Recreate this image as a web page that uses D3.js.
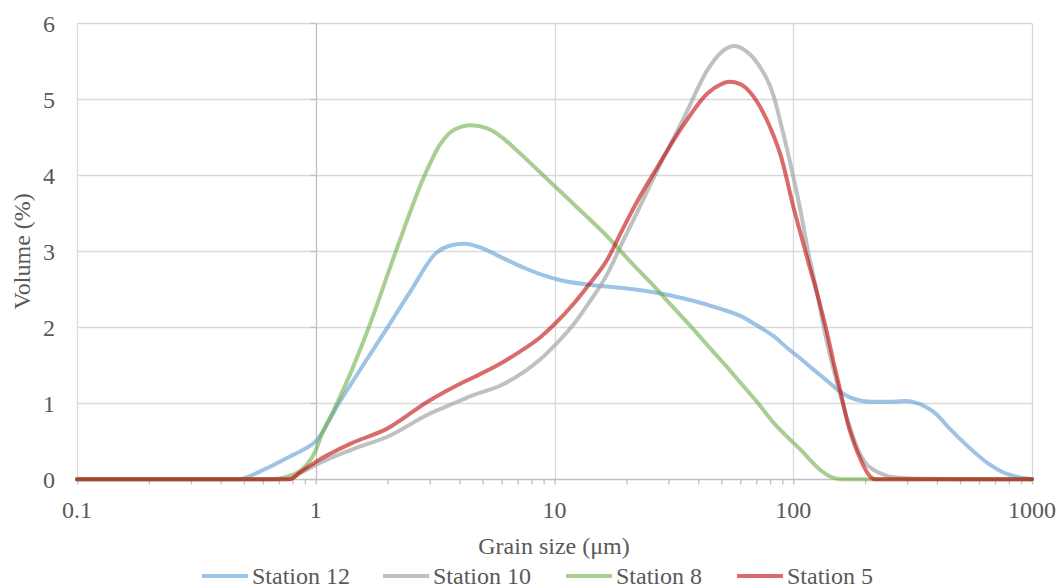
<!DOCTYPE html>
<html>
<head>
<meta charset="utf-8">
<script src="https://cdnjs.cloudflare.com/ajax/libs/d3/7.8.5/d3.min.js"></script>
</head>
<body style="margin:0">
<svg id="chart" width="1058" height="588"></svg>
<script>
// ---- Data ----
const seriesNames = ["Station 12", "Station 10", "Station 8", "Station 5"];

const sizes12 = [0.1, 0.47, 0.6, 0.78, 0.9, 1, 1.25, 1.6, 2, 2.5, 3.2, 3.6, 4.2, 5, 6, 7.5, 8.7, 10.6, 14, 20, 25, 37, 50, 60, 70, 83, 95, 108, 122, 138, 153, 175, 211, 250, 293, 355, 400, 445, 540, 655, 760, 845, 1000];
const vol12   = [0, 0, 0.12, 0.3, 0.4, 0.5, 1.0, 1.53, 2.0, 2.48, 2.98, 3.07, 3.10, 3.04, 2.92, 2.78, 2.70, 2.62, 2.56, 2.51, 2.47, 2.36, 2.24, 2.15, 2.03, 1.88, 1.72, 1.58, 1.44, 1.30, 1.18, 1.07, 1.02, 1.02, 1.03, 0.96, 0.85, 0.69, 0.43, 0.21, 0.09, 0.04, 0];

const sizes10 = [0.1, 0.77, 0.85, 1, 1.4, 2.06, 2.94, 3.93, 4.5, 6, 7.5, 8.8, 10, 12.1, 14, 16.7, 19, 21.7, 27, 35, 43.8, 50, 56.6, 63, 71, 83, 90, 98, 107, 115, 125, 135, 146, 158, 172, 187, 200, 218, 240, 258, 300, 400, 500, 1000];
const vol10   = [0, 0, 0.07, 0.19, 0.385, 0.58, 0.85, 1.02, 1.1, 1.24, 1.42, 1.59, 1.76, 2.05, 2.33, 2.71, 3.08, 3.45, 4.07, 4.77, 5.39, 5.62, 5.70, 5.64, 5.47, 5.03, 4.6, 4.11, 3.55, 3.02, 2.5, 1.96, 1.5, 1.09, 0.7, 0.385, 0.22, 0.12, 0.06, 0.03, 0.015, 0.005, 0, 0];

const sizes8  = [0.1, 0.65, 0.75, 0.85, 0.91, 1, 1.05, 1.19, 1.4, 1.65, 2.2, 2.84, 3.34, 3.8, 4.47, 5.2, 5.97, 7, 8.5, 10, 13, 16.7, 20, 25.4, 30, 37.3, 45, 52, 60.5, 70, 83, 95, 108, 127, 144, 160, 1000];
const vol8    = [0, 0, 0.03, 0.1, 0.18, 0.38, 0.56, 0.91, 1.4, 1.96, 3.06, 3.98, 4.42, 4.6, 4.66, 4.62, 4.51, 4.32, 4.07, 3.86, 3.52, 3.19, 2.92, 2.58, 2.33, 2.01, 1.72, 1.5, 1.26, 1.03, 0.74, 0.55, 0.38, 0.15, 0.03, 0, 0];

const sizes5  = [0.1, 0.78, 0.85, 1, 1.4, 2.0, 2.94, 3.93, 5, 6, 7, 8.8, 10, 12.1, 14, 16.7, 19, 21.7, 27, 35, 43.8, 50, 54, 60, 66.5, 75, 83, 89, 100, 108, 117, 127, 138, 149, 160, 169, 180, 192, 203, 211, 220, 1000];
const vol5    = [0, 0, 0.08, 0.23, 0.47, 0.67, 1.02, 1.24, 1.4, 1.53, 1.66, 1.88, 2.04, 2.32, 2.57, 2.9, 3.25, 3.6, 4.11, 4.68, 5.08, 5.2, 5.23, 5.2, 5.08, 4.82, 4.51, 4.24, 3.59, 3.2, 2.8, 2.4, 1.95, 1.48, 1.07, 0.74, 0.47, 0.25, 0.1, 0.03, 0, 0];

const xTicks = [0.1, 1, 10, 100, 1000];
const xTickLabels = ["0.1", "1", "10", "100", "1000"];
const yTicks = [0, 1, 2, 3, 4, 5, 6];

const colors   = ["#5B9BD5", "#A5A5A5", "#70AD47", "#C00000"];
const opacities = [0.6, 0.7, 0.6, 0.58];

// ---- Build series ----
const series = [
  { name: seriesNames[0], pts: sizes12.map((s, i) => [s, vol12[i]]) },
  { name: seriesNames[1], pts: sizes10.map((s, i) => [s, vol10[i]]) },
  { name: seriesNames[2], pts: sizes8.map((s, i) => [s, vol8[i]]) },
  { name: seriesNames[3], pts: sizes5.map((s, i) => [s, vol5[i]]) }
];

// ---- Layout ----
const FONT = "Liberation Serif";
const svg = d3.select("#chart");
const L = 77, R = 1032, T = 23.3, B = 479.3;
const x = d3.scaleLog().domain([0.1, 1000]).range([L, R]);
const y = d3.scaleLinear().domain([0, 6]).range([B, T]);
const fontSize = 24;
const txt = sel => sel.attr("font-family", FONT).attr("font-size", fontSize);

// Text layer first (colour inherited from the group)
const textLayer = svg.append("g").attr("fill", "#595959");

// X tick labels
xTicks.forEach((d, i) => {
  textLayer.append("text").call(txt)
    .attr("x", x(d)).attr("y", 510).attr("dy", "0.35em")
    .attr("text-anchor", "middle").text(xTickLabels[i]);
});

// Y tick labels
yTicks.forEach(d => {
  textLayer.append("text").call(txt)
    .attr("x", 55).attr("y", y(d)).attr("dy", "0.35em")
    .attr("text-anchor", "end").text(d);
});

// Axis titles
textLayer.append("text").call(txt)
  .attr("x", 554).attr("y", 546).attr("dy", "0.35em")
  .attr("text-anchor", "middle")
  .text("Grain size (μm)");
textLayer.append("text").call(txt)
  .attr("transform", `translate(22,${(T + B) / 2}) rotate(-90)`)
  .attr("dy", "0.35em")
  .attr("text-anchor", "middle")
  .text("Volume (%)");

// Legend texts
const legendStarts = [202, 383, 566, 737];
const legY = 576;
seriesNames.forEach((name, i) => {
  textLayer.append("text").call(txt)
    .attr("x", legendStarts[i] + 50).attr("y", legY).attr("dy", "0.35em").text(name);
});

// Horizontal gridlines
svg.append("g").selectAll("line").data(yTicks.filter(v => v > 0)).join("line")
  .attr("x1", L).attr("x2", R)
  .attr("y1", d => Math.round(y(d)) + 0.5).attr("y2", d => Math.round(y(d)) + 0.5)
  .attr("stroke", "#d9d9d9").attr("stroke-width", 1.3);

// Vertical gridlines (decades except axis at 1)
svg.append("g").selectAll("line").data(xTicks.filter(v => v !== 1)).join("line")
  .attr("x1", d => Math.round(x(d)) + 0.5).attr("x2", d => Math.round(x(d)) + 0.5)
  .attr("y1", T).attr("y2", B)
  .attr("stroke", "#d9d9d9").attr("stroke-width", 1.3);

// Vertical axis line at x = 1 with outward ticks
const xAxisPos = Math.round(x(1)) + 0.5;
svg.append("line")
  .attr("x1", xAxisPos).attr("x2", xAxisPos).attr("y1", T).attr("y2", B)
  .attr("stroke", "#bfbfbf").attr("stroke-width", 1.3);
svg.append("g").selectAll("line").data(yTicks).join("line")
  .attr("x1", xAxisPos - 6).attr("x2", xAxisPos)
  .attr("y1", d => Math.round(y(d)) + 0.5).attr("y2", d => Math.round(y(d)) + 0.5)
  .attr("stroke", "#bfbfbf").attr("stroke-width", 1.3);

// X axis with major + minor ticks (log)
const minorTicks = x.ticks().filter(v => v >= 0.1 && v <= 1000);
const xAxis = d3.axisBottom(x).tickValues(minorTicks).tickSize(5).tickFormat("");
const gx = svg.append("g").attr("transform", `translate(0,${Math.round(B) + 0.5})`).call(xAxis);
gx.attr("font-family", null).attr("font-size", null);
gx.select(".domain").attr("stroke", "#bfbfbf").attr("stroke-width", 1.3).attr("d", `M${L},0H${R}`);
gx.selectAll(".tick line").attr("stroke", "#bfbfbf").attr("stroke-width", 1.3);
gx.selectAll(".tick text").remove();

// Lines
const line = d3.line().x(d => x(d[0])).y(d => y(d[1])).curve(d3.curveMonotoneX);
svg.append("g").selectAll("path").data(series).join("path")
  .attr("d", d => line(d.pts))
  .attr("fill", "none")
  .attr("stroke", (d, i) => colors[i])
  .attr("stroke-opacity", (d, i) => opacities[i])
  .attr("stroke-width", 4)
  .attr("stroke-linejoin", "round")
  .attr("stroke-linecap", "round");

// Legend swatches
seriesNames.forEach((name, i) => {
  svg.append("line")
    .attr("x1", legendStarts[i]).attr("x2", legendStarts[i] + 46)
    .attr("y1", legY).attr("y2", legY)
    .attr("stroke", colors[i]).attr("stroke-opacity", opacities[i]).attr("stroke-width", 4);
});

if (document.fonts) { document.fonts.check("24px '" + FONT + "'"); document.fonts.forEach(() => {}); }
</script>
</body>
</html>
